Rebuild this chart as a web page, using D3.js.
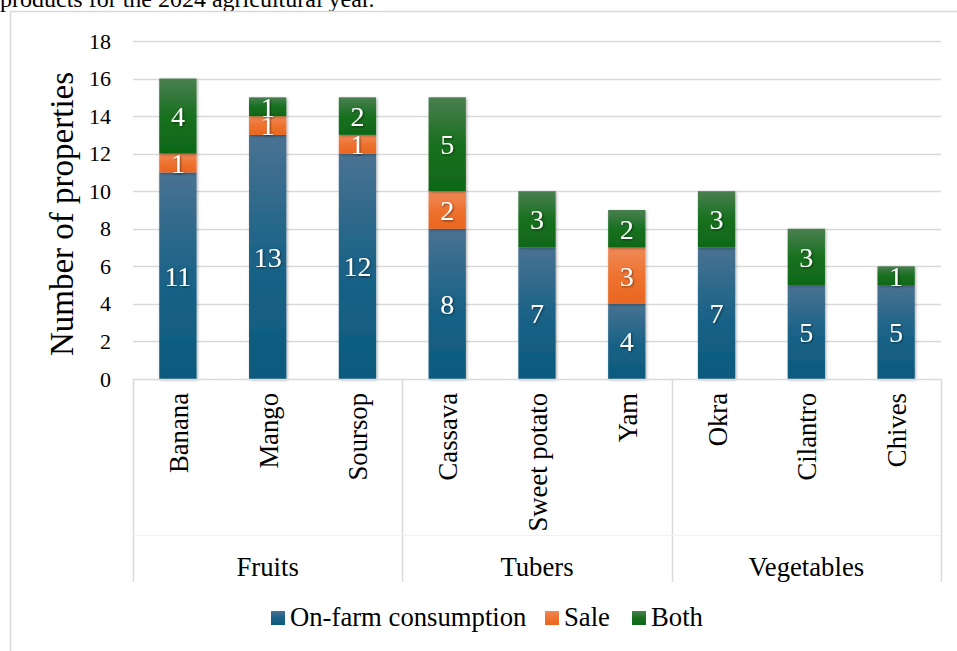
<!DOCTYPE html>
<html>
<head>
<meta charset="utf-8">
<script src="https://cdn.jsdelivr.net/npm/d3@7"></script>
<style>
  body { margin: 0; background: #fff; }
  svg { display: block; font-family: "Liberation Serif", "Times New Roman", serif; }
</style>
</head>
<body>
<div id="chart"></div>
<script>
const width = 957;
const height = 651;

// data
const groups = ['Fruits', 'Tubers', 'Vegetables'];
const crops = ['Banana', 'Mango', 'Soursop', 'Cassava', 'Sweet potato', 'Yam', 'Okra', 'Cilantro', 'Chives'];
const cropGroup = ['Fruits', 'Fruits', 'Fruits', 'Tubers', 'Tubers', 'Tubers', 'Vegetables', 'Vegetables', 'Vegetables'];
const onFarm = [11, 13, 12, 8, 7, 4, 7, 5, 5];
const sale = [1, 1, 1, 2, 0, 3, 0, 0, 0];
const both = [4, 1, 2, 5, 3, 2, 3, 3, 1];
const seriesNames = ['On-farm consumption', 'Sale', 'Both'];
const yTicks = [0, 2, 4, 6, 8, 10, 12, 14, 16, 18];

// top, middle, bottom of each gradient
const colors = {
  'On-farm consumption': ['#4a7292', '#1b6387', '#0b5a7e'],
  'Sale': ['#ef8a58', '#ee7330', '#e9661f'],
  'Both': ['#4a7f51', '#18701f', '#0f6818']
};

const rows = crops.map((c, i) => ({
  crop: c, group: cropGroup[i],
  'On-farm consumption': onFarm[i], 'Sale': sale[i], 'Both': both[i]
}));

const stacked = d3.stack().keys(seriesNames)(rows);

const area = { left: 133, right: 941, top: 41, bottom: 379 };

const svg = d3.select('#chart').append('svg')
  .attr('width', width).attr('height', height);

const defs = svg.append('defs');
seriesNames.forEach((s, i) => {
  const g = defs.append('linearGradient').attr('id', 'grad' + i)
    .attr('x1', 0).attr('y1', 0).attr('x2', 0).attr('y2', 1);
  g.append('stop').attr('offset', '0%').attr('stop-color', colors[s][0]);
  g.append('stop').attr('offset', '50%').attr('stop-color', colors[s][1]);
  g.append('stop').attr('offset', '100%').attr('stop-color', colors[s][2]);
});
const shadow = defs.append('filter').attr('id', 'shadow')
  .attr('x', '-20%').attr('y', '-20%').attr('width', '140%').attr('height', '140%');
shadow.append('feDropShadow').attr('dx', 1).attr('dy', 1).attr('stdDeviation', 1.5)
  .attr('flood-color', '#000').attr('flood-opacity', 0.35);
const textShadow = defs.append('filter').attr('id', 'tshadow');
textShadow.append('feDropShadow').attr('dx', 1).attr('dy', 1).attr('stdDeviation', 1)
  .attr('flood-color', '#000').attr('flood-opacity', 0.5);

// caption text cut off at top
svg.append('text')
  .attr('x', 0).attr('y', 7)
  .attr('font-size', 24).attr('fill', '#000')
  .text('products for the 2024 agricultural year.');

// chart border
svg.append('path')
  .attr('d', `M10.5,${height} L10.5,11.5 L${width},11.5`)
  .attr('fill', 'none').attr('stroke', '#d9d9d9').attr('stroke-width', 1.5);

const xScale = d3.scaleBand().domain(crops)
  .range([area.left, area.right]).paddingInner(0.585).paddingOuter(0.2925);
const yScale = d3.scaleLinear().domain([0, 18]).range([area.bottom, area.top]);

// gridlines
svg.append('g').attr('class', 'gridlines')
  .selectAll('line').data(yTicks.filter(d => d > 0)).join('line')
  .attr('x1', area.left).attr('x2', area.right)
  .attr('y1', d => Math.round(yScale(d)) + 0.5).attr('y2', d => Math.round(yScale(d)) + 0.5)
  .attr('stroke', '#d9d9d9').attr('stroke-width', 1.5);

// y axis labels
const yAxis = d3.axisLeft(yScale).tickValues(yTicks).tickSize(0).tickPadding(22);
svg.append('g')
  .attr('transform', `translate(${area.left},0)`)
  .call(yAxis)
  .call(g => g.select('.domain').remove())
  .call(g => g.selectAll('text')
    .attr('font-size', 22).attr('fill', '#000')
    .attr('font-family', '"Liberation Serif", serif'));

svg.append('text')
  .attr('transform', `translate(73,214) rotate(-90)`)
  .attr('text-anchor', 'middle')
  .attr('font-size', 33).attr('fill', '#000')
  .text('Number of properties');

// bars
const layers = svg.append('g').attr('class', 'bars');
stacked.forEach((layer, i) => {
  layers.append('g')
    .selectAll('rect').data(layer.filter(d => d[1] > d[0])).join('rect')
    .attr('x', d => xScale(d.data.crop))
    .attr('width', xScale.bandwidth())
    .attr('y', d => yScale(d[1]))
    .attr('height', d => yScale(d[0]) - yScale(d[1]))
    .attr('fill', `url(#grad${i})`)
    .attr('filter', 'url(#shadow)');
});

// data labels
const labels = svg.append('g').attr('class', 'labels');
stacked.forEach(layer => {
  labels.selectAll(null).data(layer.filter(d => d[1] > d[0])).join('text')
    .attr('x', d => xScale(d.data.crop) + xScale.bandwidth() / 2)
    .attr('y', d => yScale((d[0] + d[1]) / 2))
    .attr('dy', '0.35em')
    .attr('text-anchor', 'middle')
    .attr('font-size', 28).attr('fill', '#fff')
    .attr('filter', 'url(#tshadow)')
    .text(d => d[1] - d[0]);
});

// axis baseline
svg.append('line')
  .attr('x1', area.left).attr('x2', area.right)
  .attr('y1', area.bottom + 0.5).attr('y2', area.bottom + 0.5)
  .attr('stroke', '#d9d9d9').attr('stroke-width', 1.5);

// category labels (rotated)
svg.append('g').selectAll('text').data(crops).join('text')
  .attr('transform', d => `translate(${xScale(d) + xScale.bandwidth() / 2 + 10},393) rotate(-90)`)
  .attr('text-anchor', 'end')
  .attr('font-size', 26.7).attr('fill', '#000')
  .text(d => d);

// group separators and labels
const step = xScale.step();
const groupBounds = groups.map(g => {
  const idx = cropGroup.map((c, i) => c === g ? i : -1).filter(i => i >= 0);
  return { name: g, x0: area.left + idx[0] * step, x1: area.left + (idx[idx.length - 1] + 1) * step };
});
const sepX = [area.left, ...groupBounds.map(g => g.x1)];
svg.append('g').selectAll('line').data(sepX).join('line')
  .attr('x1', d => Math.round(d) + 0.5).attr('x2', d => Math.round(d) + 0.5)
  .attr('y1', area.bottom).attr('y2', 582)
  .attr('stroke', '#d9d9d9').attr('stroke-width', 1.5);
svg.append('line')
  .attr('x1', area.left).attr('x2', area.right)
  .attr('y1', 535.5).attr('y2', 535.5)
  .attr('stroke', '#f2f2f2').attr('stroke-width', 1);

svg.append('g').selectAll('text').data(groupBounds).join('text')
  .attr('x', d => (d.x0 + d.x1) / 2)
  .attr('y', 576)
  .attr('text-anchor', 'middle')
  .attr('font-size', 26.7).attr('fill', '#000')
  .text(d => d.name);

// legend
const legendX = [271, 545, 632];
const legend = svg.append('g').attr('class', 'legend');
seriesNames.forEach((s, i) => {
  const g = legend.append('g').attr('transform', `translate(${legendX[i]},611)`);
  g.append('rect').attr('width', 14).attr('height', 14).attr('fill', `url(#grad${i})`);
  g.append('text').attr('x', 19).attr('y', 15)
    .attr('font-size', 26.7).attr('fill', '#000').text(s);
});
</script>
</body>
</html>
